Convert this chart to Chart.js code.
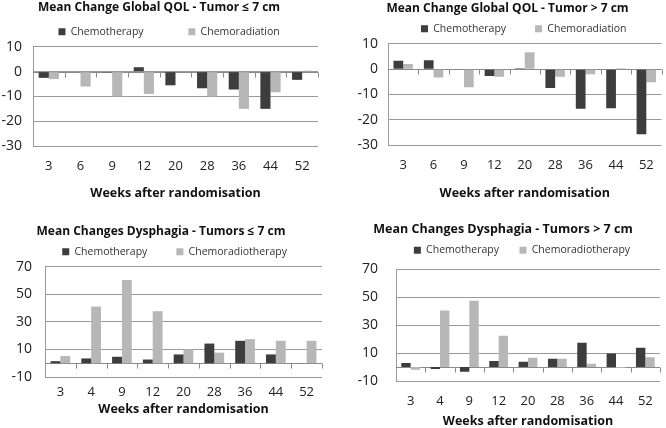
<!DOCTYPE html>
<html>
<head>
<meta charset="utf-8">
<script src="https://cdn.jsdelivr.net/npm/chart.js@4.4.0/dist/chart.umd.min.js"></script>
<style>
  body { margin:0; background:#fff; }
  .panel { position:absolute; }
</style>
</head>
<body>
<div class="panel" style="left:0;top:0;width:333px;height:212px"><canvas id="c1"></canvas></div>
<div class="panel" style="left:349px;top:0;width:317px;height:212px"><canvas id="c2"></canvas></div>
<div class="panel" style="left:0;top:214px;width:333px;height:214px"><canvas id="c3"></canvas></div>
<div class="panel" style="left:346px;top:214px;width:320px;height:214px"><canvas id="c4"></canvas></div>
<script>
// data
const qolWeeks = ["3","6","9","12","20","28","36","44","52"];
const dysWeeks = ["3","4","9","12","20","28","36","44","52"];

const qolSmallChemo = [-2.5, 0, -0.3, 1.8, -5.5, -6.7, -7.2, -15, -3.3];
const qolSmallRad   = [-3, -6, -10, -9, 0, -10, -15, -8.3, 0.4];
const qolLargeChemo = [3.3, 3.5, 0, -2.7, 0.4, -7.4, -15.7, -15.5, -25.7];
const qolLargeRad   = [2, -3.3, -7.2, -3, 6.7, -3, -2, 0.4, -5.2];

const dysSmallChemo = [1.5, 3.5, 4.7, 2.7, 6.4, 14.3, 16.3, 6.4, 0];
const dysSmallRad   = [5.2, 41.2, 60.5, 37.8, 10.1, 7.7, 17.5, 16.3, 16.3];
const dysLargeChemo = [3, -1.4, -3.3, 4.3, 3.8, 6, 17.4, 9.8, 13.8];
const dysLargeRad   = [-2, 40.5, 47.6, 22.4, 6.7, 6, 2.4, -0.7, 7.1];

const qolTicks = [10, 0, -10, -20, -30];
const dysTicks = [70, 50, 30, 10, -10];

const dark = '#3d3d3d';
const light = '#b7b7b7';
const fontName = 'Open Sans';

// axis line at zero with small marks between categories
const zeroAxis = {
  id: 'zeroAxis',
  beforeDatasetsDraw(chart) {
    const x = chart.scales.x, y = chart.scales.y;
    const y0 = Math.round(y.getPixelForValue(0)) + 0.5;
    const ctx = chart.ctx;
    ctx.save();
    ctx.strokeStyle = '#8a8a8a';
    ctx.lineWidth = 1;
    ctx.beginPath();
    ctx.moveTo(x.left, y0);
    ctx.lineTo(x.right, y0);
    const n = chart.data.labels.length;
    for (let i = 1; i <= n; i++) {
      const px = Math.round(x.left + i * x.width / n) + 0.5;
      ctx.moveTo(px, y0);
      ctx.lineTo(px, y0 + 5);
    }
    ctx.stroke();
    ctx.restore();
  }
};

function makeChart(id, title, labels, chemo, rad, radName, ticks, opts) {
  new Chart(document.getElementById(id), {
    type: 'bar',
    data: {
      labels: labels,
      datasets: [
        { label: 'Chemotherapy', data: chemo, backgroundColor: dark },
        { label: radName, data: rad, backgroundColor: light }
      ]
    },
    options: {
      responsive: true,
      maintainAspectRatio: false,
      animation: false,
      categoryPercentage: 0.64,
      barPercentage: 1,
      layout: { padding: opts.padding },
      plugins: {
        title: {
          display: true, text: title, color: '#111',
          font: { family: fontName, size: opts.titleSize, weight: 'bold' },
          padding: { top: opts.titleTop, bottom: opts.titleBottom }
        },
        legend: {
          labels: {
            color: '#333', boxWidth: 7, boxHeight: 7, padding: opts.legendPad,
            font: { family: fontName, size: 10.5 },
            generateLabels(chart) {
              const items = Chart.defaults.plugins.legend.labels.generateLabels(chart);
              items[0].text += opts.legendGap;
              // blank first entry only nudges the legend to the right
              items.unshift({ text: opts.legendShift, fillStyle: 'rgba(0,0,0,0)', strokeStyle: 'rgba(0,0,0,0)', lineWidth: 0, hidden: false, datasetIndex: -1 });
              return items;
            }
          }
        },
        tooltip: { enabled: false }
      },
      scales: {
        x: {
          grid: { display: false, drawTicks: false },
          border: { display: false },
          afterFit(scale) { scale.height = opts.xHeight; },
          ticks: { color: '#222', autoSkip: false, maxRotation: 0, padding: opts.xTickPad, font: { family: fontName, size: 13 } },
          title: {
            display: true, text: 'Weeks after randomisation', color: '#111',
            font: { family: fontName, size: 12.5, weight: 'bold' },
            padding: { top: 0, bottom: opts.xTitleBottom }
          }
        },
        // empty strip between legend and plot
        gap: {
          type: 'category', position: 'top', labels: labels,
          grid: { display: false, drawTicks: false },
          border: { display: false },
          ticks: { display: false },
          afterFit(scale) { scale.height = opts.topGap; }
        },
        y: {
          min: ticks[ticks.length - 1],
          max: ticks[0],
          afterBuildTicks(scale) { scale.ticks = ticks.map(v => ({ value: v })); },
          afterFit(scale) { scale.width = opts.yWidth; },
          grid: { color: '#9a9a9a', drawTicks: false },
          border: { display: true, color: '#9a9a9a' },
          ticks: { color: '#222', autoSkip: false, padding: opts.yTickPad, font: { family: fontName, size: 14 } }
        }
      }
    },
    plugins: [zeroAxis]
  });
}

makeChart('c1', 'Mean Change Global QOL - Tumor \u2264 7 cm', qolWeeks, qolSmallChemo, qolSmallRad,
  'Chemoradiation', qolTicks, { padding: { left: 0, right: 15, top: 0, bottom: 0 }, titleSize: 12, titleTop: 0, titleBottom: 4,
  legendPad: 8, legendGap: '\u2003\u2003\u2003\u2002', legendShift: '', topGap: 0, xHeight: 66, xTickPad: 12, xTitleBottom: 11.5, yWidth: 33, yTickPad: 11 });
makeChart('c2', 'Mean Change Global QOL - Tumor > 7 cm', qolWeeks, qolLargeChemo, qolLargeRad,
  'Chemoradiation', qolTicks, { padding: { left: 0, right: 0, top: 0, bottom: 0 }, titleSize: 12, titleTop: 1, titleBottom: 0,
  legendPad: 8, legendGap: '\u2003\u2003', legendShift: '\u2003\u2006', topGap: 0, xHeight: 67, xTickPad: 12, xTitleBottom: 11.5, yWidth: 39, yTickPad: 10 });
makeChart('c3', 'Mean Changes Dysphagia - Tumors \u2264 7 cm', dysWeeks, dysSmallChemo, dysSmallRad,
  'Chemoradiotherapy', dysTicks, { padding: { left: 0, right: 11, top: 0, bottom: 0 }, titleSize: 12, titleTop: 10, titleBottom: 0,
  legendPad: 8, legendGap: '\u2003\u2003', legendShift: '\u2002\u2006', topGap: 0, xHeight: 51, xTickPad: 7, xTitleBottom: 11.5, yWidth: 45, yTickPad: 13 });
makeChart('c4', 'Mean Changes Dysphagia - Tumors > 7 cm', dysWeeks, dysLargeChemo, dysLargeRad,
  'Chemoradiotherapy', dysTicks, { padding: { left: 0, right: 6, top: 0, bottom: 0 }, titleSize: 12.5, titleTop: 8, titleBottom: -2,
  legendPad: 10, legendGap: '\u2003', legendShift: '\u2003\u2002', topGap: 4, xHeight: 47, xTickPad: 12, xTitleBottom: -1, yWidth: 50, yTickPad: 18 });
</script>
</body>
</html>
